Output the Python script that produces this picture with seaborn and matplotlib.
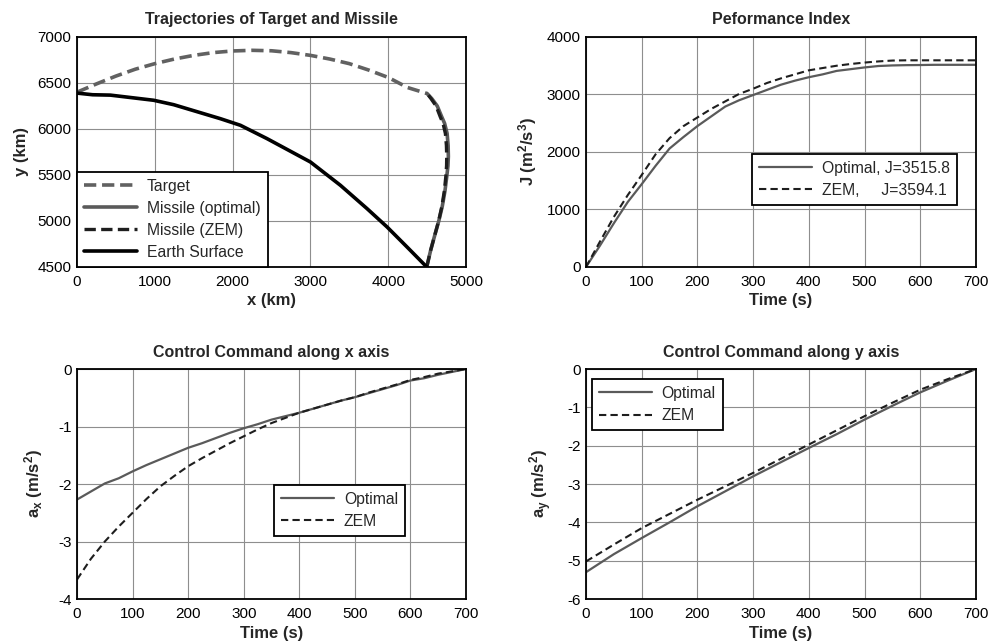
import matplotlib
matplotlib.use("Agg")
import matplotlib.pyplot as plt
import seaborn as sns
import pandas as pd

# ---- trajectories (km) ----
target_x = [0, 250, 500, 750, 1000, 1250, 1500, 1750, 2000, 2250, 2500, 2750,
            3000, 3250, 3500, 3750, 4000, 4250, 4500]
target_y = [6400, 6490, 6575, 6650, 6710, 6760, 6800, 6830, 6848, 6855, 6850, 6830,
            6800, 6760, 6710, 6640, 6560, 6450, 6385]
missile_opt_x = [4495, 4545, 4600, 4650, 4695, 4730, 4752, 4768, 4773, 4770, 4757,
                 4725, 4687, 4630, 4560, 4500]
missile_opt_y = [4500, 4680, 4850, 5000, 5160, 5330, 5480, 5600, 5700, 5820, 5950,
                 6060, 6134, 6250, 6330, 6385]
missile_zem_x = [4495, 4545, 4600, 4648, 4690, 4722, 4740, 4750, 4752, 4748, 4735,
                 4705, 4668, 4615, 4550, 4500]
missile_zem_y = missile_opt_y
earth_x = [0, 200, 428, 985, 1242, 1842, 2100, 2442, 3000, 3385, 3728, 3985, 4242, 4495]
earth_y = [6390, 6372, 6368, 6312, 6264, 6112, 6040, 5895, 5641, 5388, 5134, 4935, 4717, 4500]

# ---- performance index ----
t25 = list(range(0, 701, 25))
J_opt = [0, 370, 760, 1130, 1440, 1760, 2060, 2260, 2450, 2620, 2790, 2900, 2990,
         3080, 3170, 3240, 3300, 3350, 3410, 3440, 3470, 3495, 3505, 3510, 3512,
         3515.8, 3515.8, 3515.8, 3515.8]
J_zem = [0, 440, 870, 1250, 1600, 1960, 2240, 2450, 2600, 2750, 2880, 3010, 3100,
         3200, 3280, 3350, 3420, 3460, 3500, 3530, 3555, 3575, 3590, 3594.1, 3594.1,
         3594.1, 3594.1, 3594.1, 3594.1]
J_opt_final = 3515.8
J_zem_final = 3594.1

# ---- control commands ----
ax_opt = [-2.27, -2.13, -1.99, -1.90, -1.78, -1.67, -1.57, -1.47, -1.37, -1.29,
          -1.20, -1.11, -1.03, -0.96, -0.88, -0.82, -0.76, -0.69, -0.62, -0.55,
          -0.49, -0.42, -0.35, -0.28, -0.20, -0.16, -0.10, -0.05, 0.0]
ax_zem = [-3.66, -3.30, -3.00, -2.74, -2.50, -2.26, -2.04, -1.86, -1.69, -1.55,
          -1.42, -1.29, -1.17, -1.05, -0.94, -0.85, -0.76, -0.69, -0.62, -0.55,
          -0.49, -0.41, -0.34, -0.27, -0.19, -0.14, -0.08, -0.04, 0.0]
t50 = list(range(0, 701, 50))
ay_opt = [-5.30, -4.83, -4.41, -4.00, -3.58, -3.19, -2.80, -2.43, -2.06, -1.70,
          -1.32, -0.96, -0.61, -0.30, 0.0]
ay_zem = [-5.02, -4.58, -4.15, -3.78, -3.41, -3.06, -2.71, -2.34, -1.97, -1.60,
          -1.23, -0.88, -0.54, -0.26, 0.0]

time_ticks = list(range(0, 701, 100))

sns.set_theme(style="white")
plt.rcParams.update({
    "font.family": ["Liberation Sans", "DejaVu Sans"],
    "axes.unicode_minus": False,
    "mathtext.fontset": "custom",
    "mathtext.rm": "Liberation Sans:bold",
    "mathtext.bf": "Liberation Sans:bold",
    "mathtext.it": "Liberation Sans:bold",
    "mathtext.default": "bf",
})

GRAY = "#5a5a5a"
DARK = "#1e1e1e"
TICK_FS = 11
LABEL_FS = 12
TITLE_FS = 11.5
LEG_FS = 11.3

fig = plt.figure(figsize=(9.89, 6.43), dpi=100)
w_l, w_r, h = 0.3933, 0.3943, 0.3577
ax1 = fig.add_axes([0.0779, 0.5848, w_l, h])
ax2 = fig.add_axes([0.5925, 0.5848, w_r, h])
ax3 = fig.add_axes([0.0779, 0.0684, w_l, h])
ax4 = fig.add_axes([0.5925, 0.0684, w_r, h])


def style(ax, title):
    ax.set_title(title, fontsize=TITLE_FS, fontweight="bold", pad=9)
    ax.grid(True, color="#8e8e8e", linewidth=0.8)
    ax.set_axisbelow(True)
    for s in ax.spines.values():
        s.set_color("black")
        s.set_linewidth(1.3)
        s.set_visible(True)
    ax.tick_params(labelsize=TICK_FS, length=0, colors="black")
    ax.tick_params(axis="x", pad=6)
    ax.tick_params(axis="y", pad=4)


def legend(ax, **kw):
    leg = ax.legend(fontsize=LEG_FS, frameon=True, fancybox=False, framealpha=1,
                    edgecolor="black", handlelength=3.4, borderpad=0.45,
                    labelspacing=0.45, handletextpad=0.6, **kw)
    leg.get_frame().set_linewidth(1.3)
    return leg


# trajectories
traj = pd.DataFrame({"x": target_x, "y": target_y})
sns.lineplot(data=traj, x="x", y="y", sort=False, estimator=None, ax=ax1,
             color="#616161", linewidth=2.6, linestyle=(0, (3.4, 1.6)), label="Target")
sns.lineplot(x=missile_opt_x, y=missile_opt_y, sort=False, estimator=None, ax=ax1,
             color=GRAY, linewidth=2.6, label="Missile (optimal)")
sns.lineplot(x=missile_zem_x, y=missile_zem_y, sort=False, estimator=None, ax=ax1,
             color=DARK, linewidth=2.4, linestyle=(0, (3.4, 1.6)), label="Missile (ZEM)")
sns.lineplot(x=earth_x, y=earth_y, sort=False, estimator=None, ax=ax1,
             color="black", linewidth=2.6, label="Earth Surface")
style(ax1, "Trajectories of Target and Missile")
ax1.set_xlim(0, 5000)
ax1.set_ylim(4500, 7000)
ax1.set_xticks(range(0, 5001, 1000))
ax1.set_yticks(range(4500, 7001, 500))
ax1.set_xlabel("x (km)", fontsize=LABEL_FS, fontweight="bold", labelpad=3)
ax1.set_ylabel("y (km)", fontsize=LABEL_FS, fontweight="bold", labelpad=6)
legend(ax1, loc="lower left", bbox_to_anchor=(0, 0), borderaxespad=0)

# performance index
sns.lineplot(x=t25, y=J_opt, ax=ax2, color=GRAY, linewidth=1.6,
             label=f"Optimal, J={J_opt_final}")
sns.lineplot(x=t25, y=J_zem, ax=ax2, color=DARK, linewidth=1.5,
             linestyle=(0, (3.5, 2)), label=f"ZEM,     J={J_zem_final}")
style(ax2, "Peformance Index")
ax2.set_xlim(0, 700)
ax2.set_ylim(0, 4000)
ax2.set_xticks(time_ticks)
ax2.set_yticks(range(0, 4001, 1000))
ax2.set_xlabel("Time (s)", fontsize=LABEL_FS, fontweight="bold", labelpad=3)
ax2.set_ylabel("J (m$^2$/s$^3$)", fontsize=LABEL_FS, fontweight="bold", labelpad=5)
legend(ax2, loc="lower right", bbox_to_anchor=(0.951, 0.27), borderaxespad=0)

# x-axis command
sns.lineplot(x=t25, y=ax_opt, ax=ax3, color=GRAY, linewidth=1.6, label="Optimal")
sns.lineplot(x=t25, y=ax_zem, ax=ax3, color=DARK, linewidth=1.5,
             linestyle=(0, (3.5, 2)), label="ZEM")
style(ax3, "Control Command along x axis")
ax3.set_xlim(0, 700)
ax3.set_ylim(-4, 0)
ax3.set_xticks(time_ticks)
ax3.set_yticks(range(-4, 1))
ax3.set_xlabel("Time (s)", fontsize=LABEL_FS, fontweight="bold", labelpad=3)
ax3.set_ylabel("a$_x$ (m/s$^2$)", fontsize=LABEL_FS, fontweight="bold", labelpad=9)
legend(ax3, loc="lower right", bbox_to_anchor=(0.843, 0.274), borderaxespad=0)

# y-axis command
sns.lineplot(x=t50, y=ay_opt, ax=ax4, color=GRAY, linewidth=1.6, label="Optimal")
sns.lineplot(x=t50, y=ay_zem, ax=ax4, color=DARK, linewidth=1.5,
             linestyle=(0, (3.5, 2)), label="ZEM")
style(ax4, "Control Command along y axis")
ax4.set_xlim(0, 700)
ax4.set_ylim(-6, 0)
ax4.set_xticks(time_ticks)
ax4.set_yticks(range(-6, 1))
ax4.set_xlabel("Time (s)", fontsize=LABEL_FS, fontweight="bold", labelpad=3)
ax4.set_ylabel("a$_y$ (m/s$^2$)", fontsize=LABEL_FS, fontweight="bold", labelpad=9)
legend(ax4, loc="upper left", bbox_to_anchor=(0.015, 0.957), borderaxespad=0)

fig.savefig("out.png", dpi=100)
